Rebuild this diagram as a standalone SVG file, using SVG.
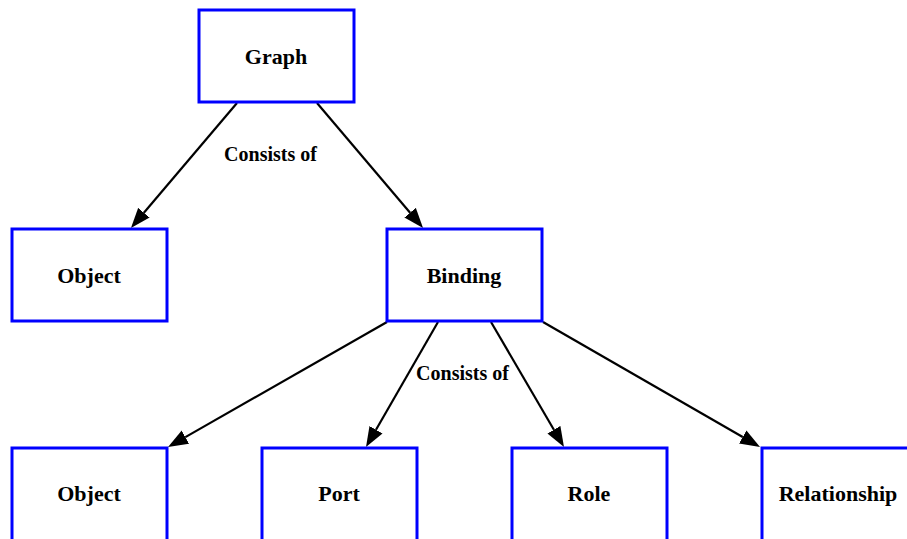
<svg xmlns="http://www.w3.org/2000/svg" width="907" height="539" viewBox="0 0 907 539">
<style>
.box{fill:#fff;stroke:#0000ff;stroke-width:3}
.lbl{font-family:"Liberation Serif","Times New Roman",serif;font-weight:bold;font-size:22px;text-anchor:middle;fill:#000}
.elbl{font-family:"Liberation Serif","Times New Roman",serif;font-weight:bold;font-size:20px;text-anchor:middle;fill:#000}
.edge{stroke:#000;stroke-width:2.2;fill:none;marker-end:url(#ah)}
</style>
<defs>
<marker id="ah" viewBox="0 -8 22 16" markerWidth="22" markerHeight="16" refX="0" refY="0" orient="auto" markerUnits="userSpaceOnUse">
<path d="M0,-7.5 L20,0 L0,7.5 z" fill="#000"/>
</marker>
</defs>
<rect width="907" height="539" fill="#fff"/>
<g id="connectors">
<line class="edge" x1="237" y1="103" x2="143.9" y2="212.7"/>
<line class="edge" x1="317" y1="103" x2="410.1" y2="212.7"/>
<line class="edge" x1="387" y1="322" x2="185.4" y2="437.1"/>
<line class="edge" x1="438" y1="322" x2="376" y2="429.7"/>
<line class="edge" x1="491" y1="322" x2="553.9" y2="429.7"/>
<line class="edge" x1="543" y1="322" x2="742.7" y2="437"/>
<text class="elbl" x="270.5" y="161">Consists of</text>
<text class="elbl" x="462.5" y="380">Consists of</text>
</g>
<g id="graph"><rect class="box" x="199" y="10" width="155" height="92"/><text class="lbl" x="276" y="64">Graph</text></g>
<g id="object1"><rect class="box" x="12" y="229" width="155" height="92"/><text class="lbl" x="89" y="283">Object</text></g>
<g id="binding"><rect class="box" x="387" y="229" width="155" height="92"/><text class="lbl" x="464" y="283">Binding</text></g>
<g id="object2"><rect class="box" x="12" y="448" width="155" height="110"/><text class="lbl" x="89" y="501">Object</text></g>
<g id="port"><rect class="box" x="262" y="448" width="155" height="110"/><text class="lbl" x="339" y="501">Port</text></g>
<g id="role"><rect class="box" x="512" y="448" width="155" height="110"/><text class="lbl" x="589" y="501">Role</text></g>
<g id="relationship"><rect class="box" x="762" y="448" width="200" height="110"/><text class="lbl" x="838" y="501">Relationship</text></g>
</svg>
